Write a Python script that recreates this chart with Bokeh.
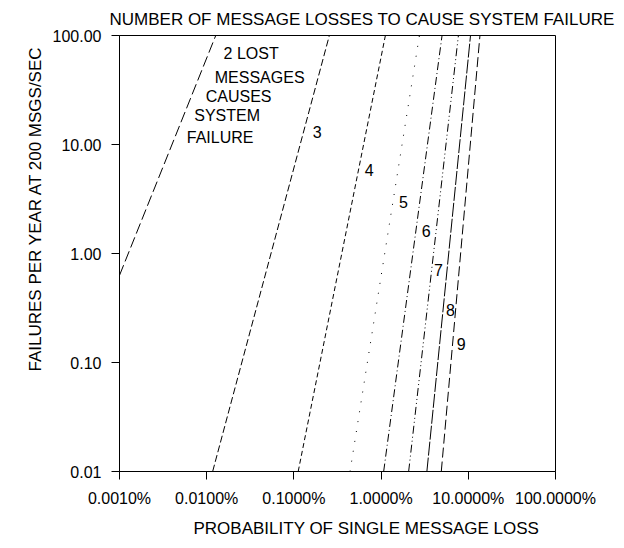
from bokeh.plotting import figure
from bokeh.models import Range1d, FixedTicker, CustomJSTickFormatter, Title, ColumnDataSource
from bokeh.core.properties import value
from bokeh.embed import file_html
from bokeh.resources import INLINE

# ---------------- data ----------------
loss_counts = [2, 3, 4, 5, 6, 7, 8, 9]
# each curve is a straight line on log-log axes: start point and end point
p_start_pct = [0.0010, 0.0117, 0.112, 0.44, 1.07, 2.07, 3.35, 4.9]
f_start = [0.63, 0.01, 0.01, 0.01, 0.01, 0.01, 0.01, 0.01]
p_end_pct = [0.0127, 0.255, 1.12, 2.75, 5.0, 7.7, 10.6, 13.6]
f_end = [100, 100, 100, 100, 100, 100, 100, 100]

x_ticks = [0.001, 0.01, 0.1, 1, 10, 100]
x_tick_labels = ["0.0010%", "0.0100%", "0.1000%", "1.0000%", "10.0000%", "100.0000%"]
y_ticks = [0.01, 0.1, 1, 10, 100]
y_tick_labels = ["0.01", "0.10", "1.00", "10.00", "100.00"]

title_text = "NUMBER OF MESSAGE LOSSES TO CAUSE SYSTEM FAILURE"
x_title = "PROBABILITY OF SINGLE MESSAGE LOSS"
y_title = "FAILURES PER YEAR AT 200 MSGS/SEC"
note_lines = ["2 LOST", "MESSAGES", "CAUSES", "SYSTEM", "FAILURE"]

# ---------------- styles / positions ----------------
FONT = "Liberation Sans"
FS = "16px"
FS_T = "17px"
dashes = ["11 4", "7 3", "5 3", "1 9", "8 3 1 3", "8 3 1 3 1 3", "14 2", "10 4"]
num_label_x = [0.185, 0.732, 1.80, 3.28, 4.54, 6.23, 8.27]
num_label_y = [13.1, 5.88, 2.99, 1.60, 0.71, 0.305, 0.149]
note_x = [0.03235, 0.0405, 0.02324, 0.01715, 0.01425]
note_y = [68.3, 41.4, 27.5, 18.4, 11.65]

p = figure(width=624, height=548, x_axis_type="log", y_axis_type="log",
           x_range=Range1d(0.001, 100), y_range=Range1d(0.01, 100),
           output_backend="svg", toolbar_location=None,
           min_border_left=119, min_border_right=69,
           min_border_top=35, min_border_bottom=77)

p.background_fill_color = "white"
p.border_fill_color = "white"
p.outline_line_color = "black"
p.outline_line_width = 1
p.xgrid.grid_line_color = None
p.ygrid.grid_line_color = None

fmt_code = """
for (let i = 0; i < vals.length; i++) {
  if (Math.abs(Math.log10(tick) - Math.log10(vals[i])) < 1e-6) return labs[i];
}
return "";
"""
p.xaxis.ticker = FixedTicker(ticks=x_ticks, minor_ticks=[])
p.yaxis.ticker = FixedTicker(ticks=y_ticks, minor_ticks=[])
p.xaxis.formatter = CustomJSTickFormatter(args=dict(vals=x_ticks, labs=x_tick_labels), code=fmt_code)
p.yaxis.formatter = CustomJSTickFormatter(args=dict(vals=y_ticks, labs=y_tick_labels), code=fmt_code)

for ax in (p.xaxis, p.yaxis):
    ax.axis_line_color = "black"
    ax.axis_line_width = 1
    ax.major_tick_line_color = "black"
    ax.major_tick_out = 8
    ax.major_tick_in = 0
    ax.minor_tick_line_color = None
    ax.major_label_text_font = FONT
    ax.major_label_text_font_size = FS
    ax.major_label_text_color = "black"
    ax.major_label_standoff = 10

p.title.text = title_text
p.title.align = "left"
p.title.offset = -10
p.title.text_font = FONT
p.title.text_font_size = FS_T
p.title.text_font_style = "normal"
p.title.text_color = "black"
p.title.standoff = 14

p.add_layout(Title(text=x_title, align="left", offset=74, text_font=FONT,
                   text_font_size=FS_T, text_font_style="normal", text_color="black",
                   standoff=14), "below")
p.add_layout(Title(text=y_title, align="left", offset=100, text_font=FONT,
                   text_font_size=FS_T, text_font_style="normal", text_color="black",
                   standoff=10), "left")

for i, n in enumerate(loss_counts):
    p.line(x=[p_start_pct[i], p_end_pct[i]], y=[f_start[i], f_end[i]],
           line_color="black", line_width=1, line_dash=dashes[i])

num_src = ColumnDataSource(dict(x=num_label_x, y=num_label_y,
                                t=[str(n) for n in loss_counts[1:]]))
p.text(x="x", y="y", text="t", source=num_src, text_font=value(FONT),
       text_font_size=FS, text_align="center", text_baseline="middle", text_color="black")

note_src = ColumnDataSource(dict(x=note_x, y=note_y, t=note_lines))
p.text(x="x", y="y", text="t", source=note_src, text_font=value(FONT),
       text_font_size=FS, text_align="center", text_baseline="middle", text_color="black")

open("out.html", "w").write(file_html(p, INLINE))
